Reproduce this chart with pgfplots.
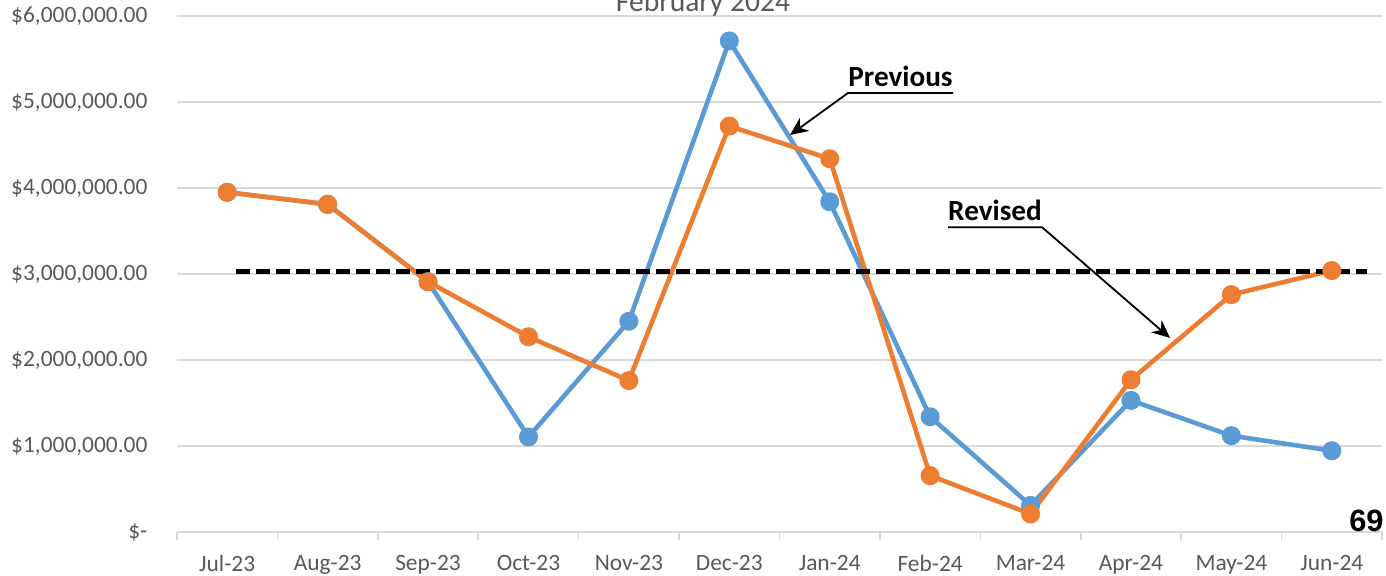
\documentclass[border=0pt]{standalone}
\usepackage{pgfplots}
\pgfplotsset{compat=1.18}
\usepackage{pgfplotstable}
\usepackage{fontspec}
\setmainfont{Carlito}
\newfontfamily\arialfont{Liberation Sans}
\usetikzlibrary{arrows.meta}
\definecolor{prevblue}{HTML}{5B9BD5}
\definecolor{revorange}{HTML}{ED7D31}
\definecolor{gridgray}{HTML}{D9D9D9}
\definecolor{labgray}{HTML}{595959}

\pgfplotstableread{
x prev rev
0 3950000 3950000
1 3810000 3810000
2 2910000 2910000
3 1105000 2270000
4 2450000 1760000
5 5710000 4720000
6 3840000 4340000
7 1340000 655000
8 310000 210000
9 1530000 1770000
10 1120000 2760000
11 945000 3040000
}\datatable

\begin{document}
\begin{tikzpicture}[x=1pt,y=1pt]
\useasboundingbox (0,0) rectangle (693,288);
\begin{axis}[
  at={(88.5pt,22pt)}, anchor=south west,
  scale only axis, width=602.5pt, height=258pt,
  xmin=-0.5, xmax=11.5, ymin=0, ymax=6000000,
  axis x line*=bottom, axis y line*=left,
  y axis line style={draw=none},
  x axis line style={gridgray, line width=0.8pt},
  xtick={0,...,11},
  xticklabels={Jul-23,Aug-23,Sep-23,Oct-23,Nov-23,Dec-23,Jan-24,Feb-24,Mar-24,Apr-24,May-24,Jun-24},
  major x tick style={draw=none},
  minor xtick={-0.5,0.5,...,11.5},
  minor tick length=4pt,
  minor x tick style={gridgray, line width=0.8pt},
  tick align=outside,
  ytick={0,1000000,2000000,3000000,4000000,5000000,6000000},
  yticklabels={{\$-},{\$1,000,000.00},{\$2,000,000.00},{\$3,000,000.00},{\$4,000,000.00},{\$5,000,000.00},{\$6,000,000.00}},
  ytick style={draw=none},
  scaled y ticks=false,
  ymajorgrids,
  major grid style={gridgray, line width=0.8pt},
  ticklabel style={font=\fontsize{11.7}{14}\selectfont, text=labgray},
  yticklabel style={anchor=east, xshift=-7pt},
  xticklabel style={yshift=-4pt},
  clip=false,
]
\addplot[prevblue, line width=2.3pt, line join=round, mark=*, mark size=3.6pt, mark options={solid, fill=prevblue, draw=prevblue}] table[x=x, y=prev] {\datatable};
\addplot[revorange, line width=2.3pt, line join=round, mark=*, mark size=3.6pt, mark options={solid, fill=revorange, draw=revorange}] table[x=x, y=rev] {\datatable};
\addplot[black, line width=2.3pt, dash pattern=on 7pt off 3pt, forget plot] coordinates {(0.09,3030000) (11.35,3030000)};
\end{axis}
\node[anchor=base, font=\fontsize{14.8}{18}\selectfont, text=labgray] at (351.5,282) {February 2024};
\node[anchor=base, font=\bfseries\fontsize{14.6}{18}\selectfont] at (450.25,244.5) {Previous};
\draw[line width=0.9pt, -{Stealth[length=9pt,width=8pt]}] (476.5,241.5) -- (424,241.5) -- (395,220.5);
\node[anchor=base, font=\bfseries\fontsize{14.6}{18}\selectfont] at (497.5,177.5) {Revised};
\draw[line width=0.9pt, -{Stealth[length=9pt,width=8pt]}] (474,174.4) -- (521,174.4) -- (585,119);
\node[anchor=base east, inner sep=0pt, font=\arialfont\bfseries\fontsize{15.4}{18}\selectfont] at (692,22) {69};
\end{tikzpicture}
\end{document}
